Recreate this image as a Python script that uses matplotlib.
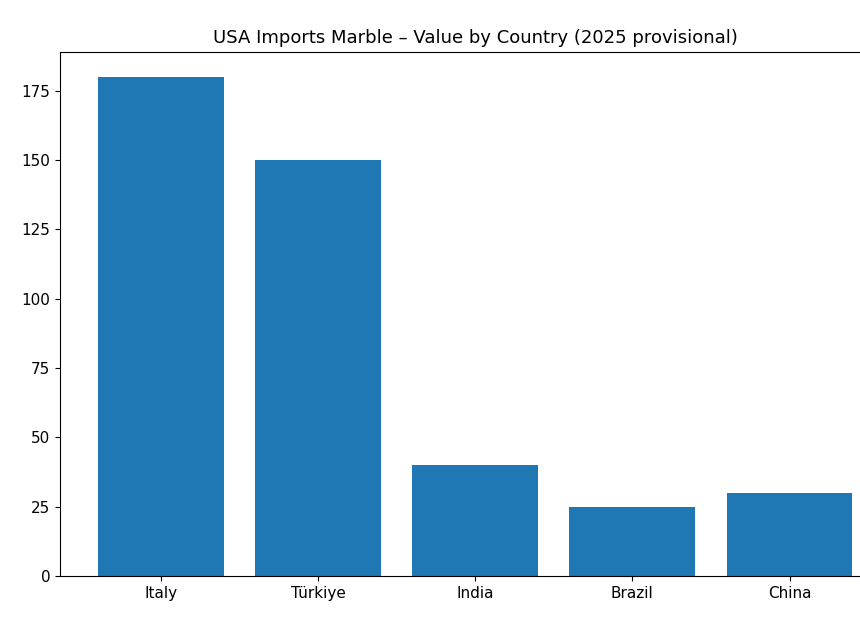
import matplotlib

matplotlib.use("Agg")
import matplotlib.pyplot as plt

countries = ["Italy", "Türkiye", "India", "Brazil", "China"]
values = [180, 150, 40, 25, 30]

fig = plt.figure(figsize=(8.6, 6.31), dpi=100)
ax = fig.add_axes([0.07, 0.087, 0.965, 0.831])
ax.bar(countries, values, color="#1f77b4")
ax.set_title("USA Imports Marble – Value by Country (2025 provisional)", fontsize=13)
ax.tick_params(labelsize=11)
fig.savefig("out.png", dpi=100)
plt.close(fig)
